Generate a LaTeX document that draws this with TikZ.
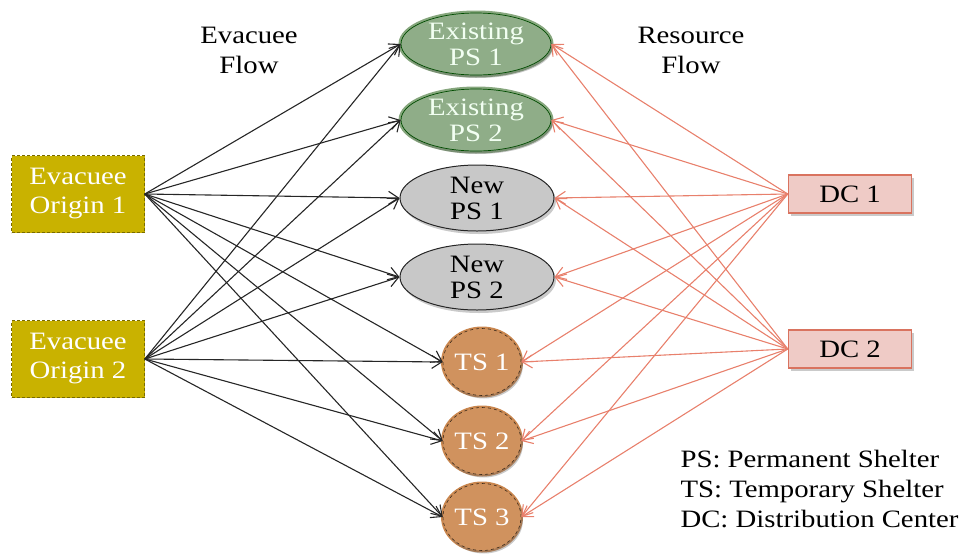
\documentclass[tikz,border=0pt]{standalone}
\usepackage{fontspec}
\setmainfont[FakeStretch=1.15]{Liberation Serif}
\usetikzlibrary{shapes.geometric,arrows.meta,shadows}
\definecolor{greenfill}{HTML}{8FAD88}
\definecolor{greenring}{HTML}{86A67D}
\definecolor{grayfill}{HTML}{C8C8C8}
\definecolor{tsfill}{HTML}{D0925E}
\definecolor{tsring}{HTML}{C9864E}
\definecolor{origfill}{HTML}{C9B200}
\definecolor{dcfill}{HTML}{EFCBC6}
\definecolor{dcline}{HTML}{D9735F}
\definecolor{redarrow}{HTML}{E8806C}
\tikzset{
  txt/.style={font=\fontsize{25}{29}\selectfont, align=center},
  shad/.style={drop shadow={opacity=0.35, shadow xshift=2pt, shadow yshift=-3pt, fill=black!60}},
  exps/.style={ellipse, txt, font=\fontsize{25}{26}\selectfont, minimum width=150pt, minimum height=62pt, inner sep=0pt,
    fill=greenfill, text=white!95!green, draw=black!70!green, line width=0.7pt,
    preaction={draw=greenring, line width=5pt}, shad},
  newps/.style={ellipse, txt, font=\fontsize{25}{26}\selectfont, minimum width=154pt, minimum height=66pt, inner sep=0pt,
    fill=grayfill, text=black, draw=black!85, line width=1pt, shad},
  tsnode/.style={ellipse, txt, minimum width=74pt, minimum height=67pt, inner sep=0pt,
    fill=tsfill, text=white, draw=black!70!tsfill, dashed, line width=0.6pt,
    preaction={draw=tsring, solid, line width=4pt}, shad},
  orig/.style={rectangle, txt, minimum width=133pt, minimum height=77pt, inner sep=0pt,
    fill=origfill, text=white, draw=black!40!origfill, densely dashed, line width=0.6pt},
  dcnode/.style={rectangle, txt, minimum width=123pt, minimum height=38pt, inner sep=0pt,
    fill=dcfill, text=black, draw=dcline, line width=1.5pt, shad},
  blk/.style={draw=black!85, line width=1.1pt, -{Straight Barb[length=10pt,width=13pt,line width=1.1pt]}},
  red/.style={draw=redarrow, line width=1.1pt, -{Straight Barb[length=10pt,width=13pt,line width=1.1pt]}},
  lbl/.style={txt, text=black, font=\fontsize{25}{30}\selectfont}
}
\begin{document}
\begin{tikzpicture}[x=1pt,y=-1pt]
\useasboundingbox (0,0) rectangle (969,555);
\node[exps] (e1) at (476,44) {Existing\\PS 1};
\node[exps] (e2) at (476,120) {Existing\\PS 2};
\node[newps] (n1) at (477,198) {New\\PS 1};
\node[newps] (n2) at (477,277) {New\\PS 2};
\node[tsnode] (t1) at (482,362) {TS 1};
\node[tsnode] (t2) at (482,441) {TS 2};
\node[tsnode] (t3) at (482,517) {TS 3};
\node[orig] (o1) at (78,194) {Evacuee\\Origin 1};
\node[orig] (o2) at (78,359) {Evacuee\\Origin 2};
\node[dcnode] (d1) at (850,194) {DC 1};
\node[dcnode] (d2) at (850,349) {DC 2};
\node[lbl] (ef) at (249,50) {Evacuee\\Flow};
\node[lbl] (rf) at (691,50) {Resource\\Flow};
\node[lbl, align=left, anchor=north west] (leg) at (677,447) {PS: Permanent Shelter\\TS: Temporary Shelter\\DC: Distribution Center};
\foreach \s in {e1,e2,n1,n2,t1,t2,t3}{
  \draw[blk] (o1.east) -- (\s.west);
  \draw[blk] (o2.east) -- (\s.west);
  \draw[red] (d1.west) -- (\s.east);
  \draw[red] (d2.west) -- (\s.east);
}
\end{tikzpicture}
\end{document}
